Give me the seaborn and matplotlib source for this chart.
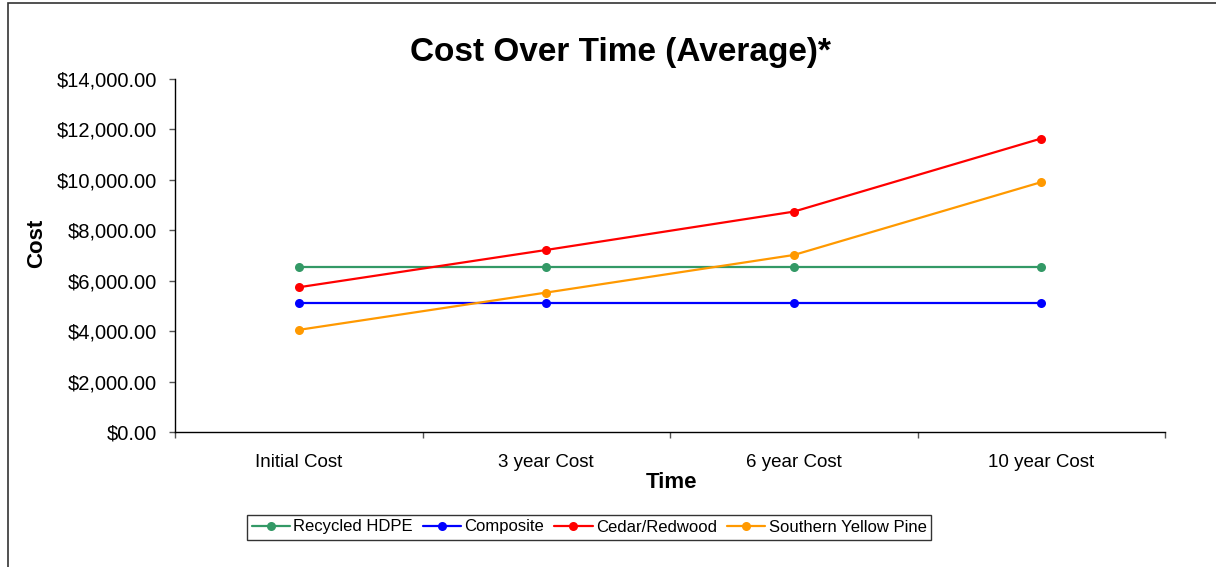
import matplotlib
matplotlib.use('Agg')
import matplotlib.pyplot as plt
import matplotlib.ticker as mticker
from matplotlib.patches import Rectangle
import seaborn as sns
import pandas as pd

times = ['Initial Cost', '3 year Cost', '6 year Cost', '10 year Cost']
recycled_hdpe = [6560, 6560, 6560, 6560]
composite = [5130, 5130, 5130, 5130]
cedar_redwood = [5740, 7220, 8740, 11640]
southern_yellow_pine = [4050, 5530, 7020, 9910]

series = {
    'Recycled HDPE': recycled_hdpe,
    'Composite': composite,
    'Cedar/Redwood': cedar_redwood,
    'Southern Yellow Pine': southern_yellow_pine,
}
colors = ['#339966', '#0000FF', '#FF0000', '#FF9900']

rows = []
for name, vals in series.items():
    for i, v in enumerate(vals):
        rows.append({'Time': i, 'Cost': v, 'Material': name})
df = pd.DataFrame(rows)

sns.set_style('ticks')
plt.rcParams['font.family'] = ['Liberation Sans', 'DejaVu Sans']
plt.rcParams['text.color'] = 'black'
plt.rcParams['axes.labelcolor'] = 'black'
plt.rcParams['xtick.color'] = 'black'
plt.rcParams['ytick.color'] = 'black'

fig = plt.figure(figsize=(12.16, 5.67), dpi=100)
ax = fig.add_axes([175 / 1216, 1 - 432 / 567, 990 / 1216, 353 / 567])

sns.lineplot(data=df, x='Time', y='Cost', hue='Material', palette=colors,
             marker='o', markersize=6.5, markeredgewidth=0, linewidth=1.6,
             sort=False, ax=ax, legend=True)

ax.set_xlim(-0.5, 3.5)
ax.set_ylim(0, 14000)
ax.yaxis.set_major_locator(mticker.MultipleLocator(2000))
ax.yaxis.set_major_formatter(mticker.StrMethodFormatter('${x:,.2f}'))
ax.set_xticks([-0.5, 0.5, 1.5, 2.5, 3.5])
ax.set_xticklabels([])
ax.set_xticks(range(len(times)), minor=True)
ax.set_xticklabels(times, minor=True)
ax.tick_params(axis='x', which='minor', length=0, pad=16, labelsize=13.5)
ax.tick_params(axis='x', which='major', length=4.3, width=1, color='#555555')
ax.tick_params(axis='y', length=4.3, width=1, color='#555555', pad=8.5, labelsize=14.5)
for s in ['left', 'bottom']:
    ax.spines[s].set_color('black')
    ax.spines[s].set_linewidth(1)
sns.despine(ax=ax)

ax.set_xlabel('Time', fontsize=16, fontweight='bold')
ax.set_ylabel('Cost', fontsize=16, fontweight='bold')
ax.xaxis.set_label_coords(0.502, -0.114)
ax.yaxis.set_label_coords(-0.129, 0.535)

fig.text(0.51, 1 - 52 / 567, 'Cost Over Time (Average)*', fontsize=24,
         fontweight='bold', ha='center', va='center')

leg = ax.legend(loc='center', bbox_to_anchor=(589 / 1216, 1 - 527 / 567),
                bbox_transform=fig.transFigure, ncol=4, fontsize=12,
                frameon=True, fancybox=False, handlelength=2.3,
                handletextpad=0.2, columnspacing=0.6, borderpad=0.3,
                borderaxespad=0, title=None)
leg.get_frame().set_edgecolor('black')
leg.get_frame().set_linewidth(1)

fig.patches.append(Rectangle((8 / 1216, -0.1), 1.2, 1.1 - 3 / 567,
                             transform=fig.transFigure, fill=False,
                             edgecolor='#333333', linewidth=1.2, clip_on=False))

plt.savefig('out.png', dpi=100)
